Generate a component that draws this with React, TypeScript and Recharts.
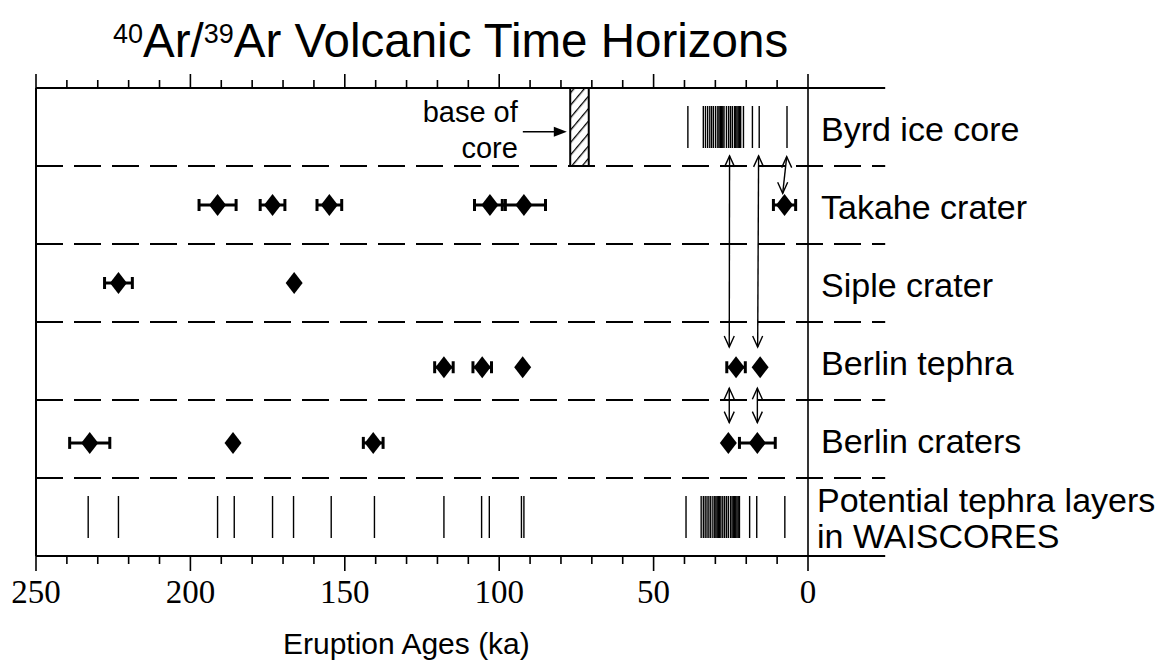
import React from 'react';
import { ComposedChart, XAxis, YAxis, Scatter, ErrorBar, ReferenceLine, ReferenceArea } from 'recharts';

const SANS = '"Liberation Sans", Arial, Helvetica, sans-serif';
const SERIF = '"Liberation Serif", "Times New Roman", serif';

// ---------- categories / axes ----------
const rowLabels: string[][] = [
  ['Byrd ice core'],
  ['Takahe crater'],
  ['Siple crater'],
  ['Berlin tephra'],
  ['Berlin craters'],
  ['Potential tephra layers', 'in WAISCORES'],
];
const rowCenters = [0.5, 1.5, 2.5, 3.5, 4.5, 5.5];
const rowSeparators = [1, 2, 3, 4, 5];
const axisTicks = [0, 10, 20, 30, 40, 50, 60, 70, 80, 90, 100, 110, 120, 130, 140, 150, 160, 170, 180, 190, 200, 210, 220, 230, 240, 250];
const labeledTicks = [250, 200, 150, 100, 50, 0];
const AGE_MIN = 0;
const AGE_MAX = 250;
const AGE_FRAME_END = -25;
const ROW_MIN = 0;
const ROW_MAX = 6;

// ---------- series values (ka) ----------
const byrdLayers = [38.9, 33.9, 33.2, 32.5, 31.8, 31.2, 30.6, 29.9, 29.2, 28.8, 28.4, 28.0, 27.6, 27.2, 26.4, 25.7, 25.1, 24.5, 23.8, 23.4, 23.0, 22.6, 22.2, 21.8, 20.9, 18.0, 15.8, 6.8];
const waisLayers = [233.1, 223.3, 191.2, 185.8, 173.4, 166.6, 154.4, 140.4, 117.9, 105.7, 103.2, 92.8, 92.0,
  39.5, 34.6, 33.9, 33.3, 32.7, 32.1, 31.5, 30.8, 30.2, 29.8, 29.4, 29.0, 28.6, 28.2, 27.6, 27.0, 26.4, 25.8, 25.1, 24.6, 24.2, 23.8, 23.4, 23.0, 22.6, 22.2, 18.9, 16.6, 7.5];

const takaheAges = [191.2, 173.4, 155.0, 103.0, 92.0, 7.6];
const takaheErrs = [6, 4, 4, 5, 7, 3.6];
const sipleAges = [223.3, 166.4];
const sipleErrs = [4.5, 0];
const tephraAges = [117.9, 105.5, 92.4, 23.3, 15.5];
const tephraErrs = [3, 3, 0, 3, 0];
const craterAges = [232.6, 186.2, 140.8, 25.8, 16.4];
const craterErrs = [6.5, 0, 3.2, 0, 5.8];

const coreBaseAges = [71, 77];
const coreBaseNote = { x: 78.1, y: 0.56 };

// correlation arrows: [age, row] of the two tips
const correlationArrows = [
  [[25.4, 0.87], [25.5, 3.32]],
  [[16.0, 0.87], [16.3, 3.32]],
  [[6.9, 0.88], [8.2, 1.35]],
  [[25.5, 3.85], [25.5, 4.29]],
  [[16.4, 3.85], [16.4, 4.29]],
];

// ---------- derived tables ----------
const layerPoints = (ages: number[], row: number) => ages.map((a) => ({ x: a, y: row }));
const datedPoints = (ages: number[], errs: number[], row: number) => ages.map((a, i) => ({ x: a, y: row, err: errs[i] }));

const byrdData = layerPoints(byrdLayers, rowCenters[0]);
const waisData = layerPoints(waisLayers, rowCenters[5]);
const takaheData = datedPoints(takaheAges, takaheErrs, rowCenters[1]);
const sipleData = datedPoints(sipleAges, sipleErrs, rowCenters[2]);
const tephraData = datedPoints(tephraAges, tephraErrs, 3.58);
const craterData = datedPoints(craterAges, craterErrs, 4.55);

// ---------- shapes ----------
const LayerMark = (p: any) => (
  <line x1={p.cx} x2={p.cx} y1={p.cy - 21} y2={p.cy + 21} stroke="#000" strokeWidth={1.4} />
);

const Diamond = (p: any) => {
  const { cx, cy } = p;
  return <polygon points={`${cx},${cy - 11} ${cx + 8.5},${cy} ${cx},${cy + 11} ${cx - 8.5},${cy}`} fill="#000" />;
};

const ArrowHead = (p: any) => {
  const { cx, cy, payload } = p;
  const s = payload.dir === 'up' ? 1 : -1;
  return <path d={`M${cx - 5},${cy + s * 11} L${cx},${cy} L${cx + 5},${cy + s * 11}`} fill="none" stroke="#000" strokeWidth={1.4} />;
};

const CoreNote = (p: any) => {
  const { cx, cy } = p;
  return (
    <g>
      <line x1={cx - 44} y1={cy} x2={cx - 10} y2={cy} stroke="#000" strokeWidth={1.5} />
      <polygon points={`${cx},${cy} ${cx - 13},${cy - 5} ${cx - 13},${cy + 5}`} fill="#000" />
      <text x={cx - 49} y={cy - 10} textAnchor="end" fontFamily={SANS} fontSize={29} fill="#000">base of</text>
      <text x={cx - 49} y={cy + 26} textAnchor="end" fontFamily={SANS} fontSize={29} fill="#000">core</text>
    </g>
  );
};

const TopTick = (p: any) => {
  const { x, y, payload } = p;
  const major = payload.value % 50 === 0;
  return <line x1={x} x2={x} y1={y} y2={y - (major ? 14 : 8)} stroke="#000" strokeWidth={1.6} />;
};

const BottomTick = (p: any) => {
  const { x, y, payload } = p;
  const major = labeledTicks.includes(payload.value);
  return (
    <g>
      <line x1={x} x2={x} y1={y} y2={y + (major ? 15 : 8)} stroke="#000" strokeWidth={1.6} />
      {major && (
        <text x={x} y={y + 47} textAnchor="middle" fontFamily={SERIF} fontSize={33} fill="#000">
          {payload.value}
        </text>
      )}
    </g>
  );
};

const RowLabel = (p: any) => {
  const { x, y, payload } = p;
  const idx = rowCenters.indexOf(payload.value);
  const lines = rowLabels[idx] || [];
  if (lines.length === 1) {
    return (
      <text x={x + 13} y={y + 14} fontFamily={SANS} fontSize={34} fill="#000">{lines[0]}</text>
    );
  }
  return (
    <text x={x + 9} y={y} fontFamily={SANS} fontSize={34} fill="#000">
      <tspan x={x + 9} dy={-5}>{lines[0]}</tspan>
      <tspan x={x + 9} dy={36}>{lines[1]}</tspan>
    </text>
  );
};

export default function App() {
  return (
    <div style={{ position: 'absolute', left: 0, top: 0, width: 1168, height: 664, background: '#fff' }}>
      <ComposedChart width={1168} height={664} margin={{ top: 87, right: 359, bottom: 107, left: 36 }}>
        <defs>
          <pattern id="hatch" patternUnits="userSpaceOnUse" width="8" height="8" patternTransform="rotate(40)">
            <rect width="8" height="8" fill="#fff" />
            <line x1="0" y1="0" x2="0" y2="8" stroke="#000" strokeWidth="2.6" />
          </pattern>
        </defs>
        <XAxis xAxisId="top" orientation="top" type="number" dataKey="x" domain={[AGE_MIN, AGE_MAX]} reversed
          allowDataOverflow ticks={axisTicks} interval={0} height={1} tickSize={0} tickMargin={0}
          axisLine={false} tickLine={false} tick={<TopTick />} />
        <XAxis xAxisId="bottom" orientation="bottom" type="number" dataKey="x" domain={[AGE_MIN, AGE_MAX]} reversed
          allowDataOverflow ticks={axisTicks} interval={0} height={1} tickSize={0} tickMargin={0}
          axisLine={false} tickLine={false} tick={<BottomTick />} />
        <YAxis yAxisId="rows" type="number" dataKey="y" domain={[ROW_MIN, ROW_MAX]} reversed allowDataOverflow hide width={0} />
        <YAxis yAxisId="labels" orientation="right" type="number" dataKey="y" domain={[ROW_MIN, ROW_MAX]} reversed
          allowDataOverflow ticks={rowCenters} interval={0} width={1} tickSize={0} tickMargin={0}
          axisLine={false} tickLine={false} tick={<RowLabel />} />

        {/* frame */}
        <ReferenceLine xAxisId="bottom" yAxisId="rows" ifOverflow="visible"
          segment={[{ x: AGE_MAX, y: ROW_MIN }, { x: AGE_FRAME_END, y: ROW_MIN }]} stroke="#000" strokeWidth={2} />
        <ReferenceLine xAxisId="bottom" yAxisId="rows" ifOverflow="visible"
          segment={[{ x: AGE_MAX, y: ROW_MAX }, { x: AGE_FRAME_END, y: ROW_MAX }]} stroke="#000" strokeWidth={2} />
        <ReferenceLine xAxisId="bottom" yAxisId="rows" x={AGE_MAX} stroke="#000" strokeWidth={2} />
        <ReferenceLine xAxisId="bottom" yAxisId="rows" x={AGE_MIN} stroke="#000" strokeWidth={1.6} />
        {rowSeparators.map((r) => (
          <ReferenceLine key={r} xAxisId="bottom" yAxisId="rows" ifOverflow="visible"
            segment={[{ x: AGE_MAX, y: r }, { x: AGE_FRAME_END, y: r }]} stroke="#000" strokeWidth={1.8}
            strokeDasharray="27 11" />
        ))}

        <ReferenceArea xAxisId="bottom" yAxisId="rows" x1={coreBaseAges[1]} x2={coreBaseAges[0]} y1={ROW_MIN} y2={1}
          fill="url(#hatch)" fillOpacity={1} stroke="#000" strokeWidth={2} ifOverflow="visible" />

        <Scatter xAxisId="bottom" yAxisId="rows" data={[coreBaseNote]} shape={<CoreNote />} isAnimationActive={false} />

        <Scatter xAxisId="bottom" yAxisId="rows" data={byrdData} shape={<LayerMark />} isAnimationActive={false} />
        <Scatter xAxisId="bottom" yAxisId="rows" data={waisData} shape={<LayerMark />} isAnimationActive={false} />

        {correlationArrows.map((a, i) => (
          <Scatter key={i} xAxisId="bottom" yAxisId="rows"
            data={[{ x: a[0][0], y: a[0][1], dir: 'up' }, { x: a[1][0], y: a[1][1], dir: 'down' }]}
            line={{ stroke: '#000', strokeWidth: 1.4 }} shape={<ArrowHead />} isAnimationActive={false} />
        ))}

        {[takaheData, sipleData, tephraData, craterData].map((d, i) => (
          <Scatter key={`d${i}`} xAxisId="bottom" yAxisId="rows" data={d} shape={<Diamond />} isAnimationActive={false}>
            <ErrorBar dataKey="err" direction="x" width={6} strokeWidth={3} stroke="#000" />
          </Scatter>
        ))}
      </ComposedChart>
      <svg width={1168} height={664} style={{ position: 'absolute', left: 0, top: 0, pointerEvents: 'none' }}>
        <text x={113} y={57} fontFamily={SANS} fontSize={47.5} fill="#000">
          <tspan fontSize={27} dy={-14}>40</tspan>
          <tspan dy={14}>Ar/</tspan>
          <tspan fontSize={27} dy={-14}>39</tspan>
          <tspan dy={14}>Ar Volcanic Time Horizons</tspan>
        </text>
        <text x={283} y={654} fontFamily={SANS} fontSize={30} fill="#000">Eruption Ages (ka)</text>
      </svg>
    </div>
  );
}
